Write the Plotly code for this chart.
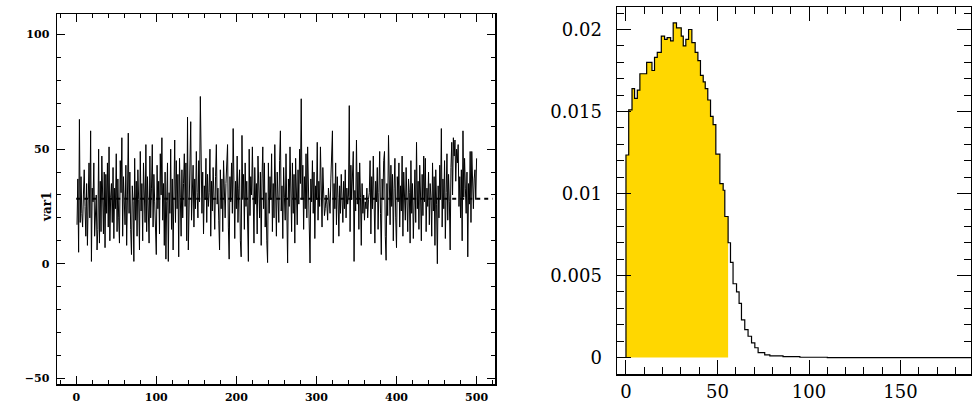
import plotly.graph_objects as go

# ---------------- data ----------------
var1 = [
    17, 37, 5, 63, 18, 38, 22, 16, 30, 41, 25, 12, 35, 8, 28, 44, 20, 58, 1, 33, 27, 44, 12, 19, 30,
    6, 15, 50, 9, 36, 14, 47, 25, 13, 40, 7, 39, 22, 44, 16, 51, 10, 29, 35, 18, 42, 11, 33, 24, 48,
    14, 37, 20, 9, 45, 31, 55, 12, 38, 26, 17, 43, 8, 30, 57, 22, 40, 15, 4, 34, 27, 1, 46, 19, 36,
    12, 41, 28, 6, 49, 23, 35, 10, 44, 30, 18, 52, 14, 38, 25, 9, 47, 20, 33, 52, 16, 39, 27, 11, 4,
    43, 24, 36, 13, 48, 30, 55, 19, 35, 8, 40, 2, 27, 44, 1, 31, 22, 50, 15, 37, 6, 28, 54, 18, 45,
    24, 39, 3, 46, 29, 12, 41, 20, 35, 48, 25, 44, 10, 64, 6, 33, 52, 62, 19, 28, 43, 16, 37, 24, 49,
    31, 20, 45, 27, 73, 36, 22, 40, 13, 34, 28, 46, 18, 39, 25, 31, 50, 12, 36, 23, 42, 29, 15, 38, 52,
    26, 33, 19, 6, 41, 24, 37, 14, 45, 29, 20, 35, 49, 52, 16, 2, 38, 27, 44, 22, 59, 30, 11, 36, 24,
    47, 18, 33, 41, 10, 3, 56, 28, 39, 15, 44, 25, 36, 9, 1, 50, 21, 38, 30, 51, 17, 9, 42, 26, 35,
    13, 47, 29, 20, 40, 8, 37, 51, 24, 44, 16, 31, 10, 0.5, 44, 22, 38, 28, 48, 14, 35, 20, 52, 30, 12,
    40, 26, 18, 45, 58, 23, 34, 11, 42, 29, 19, 48, 6, 0.3, 37, 25, 51, 30, 14, 44, 22, 39, 9, 46, 33,
    17, 41, 26, 50, 35, 72, 28, 43, 15, 38, 24, 48, 20, 51, 31, 13, 0.3, 37, 27, 45, 22, 40, 11, 34, 28,
    53, 19, 36, 25, 51, 30, 16, 42, 28, 21, 24, 30, 26, 19, 33, 27, 22, 37, 46, 58, 9, 35, 24, 44, 17,
    38, 29, 12, 34, 22, 39, 27, 18, 36, 24, 41, 20, 33, 26, 30, 69, 14, 43, 28, 37, 49, 1, 32, 23, 54,
    26, 40, 15, 44, 29, 8, 35, 22, 30, 19, 27, 24, 33, 20, 28, 31, 45, 13, 38, 24, 47, 18, 9, 36, 27,
    42, 15, 31, 49, 22, 4, 37, 28, 45, 49, 12, 1.5, 35, 21, 56, 30, 17, 43, 25, 39, 10, 33, 46, 20, 7,
    38, 27, 44, 16, 34, 23, 47, 12, 40, 29, 19, 42, 25, 14, 37, 31, 9, 45, 22, 35, 11, 28, 41, 18, 53,
    24, 36, 15, 43, 30, 10, 39, 21, 47, 27, 46, 14, 33, 25, 40, 17, 35, 29, 12, 44, 23, 38, 8, 41, 26,
    0, 34, 20, 43, 28, 59, 16, 37, 24, 45, 11, 31, 48, 19, 39, 27, 6, 42, 53, 30, 55, 47, 54, 36, 50,
    44, 52, 25, 38, 20, 41, 10, 58, 29, 46, 33, 22, 40, 3, 35, 26, 49, 18, 49, 31, 24, 37, 41, 28, 46,
]
iterations = list(range(1, len(var1) + 1))
mean_value = 28.4
mean_line_x = [0, 520]

dens_x = [0, 0, 1.5, 3.3, 4.7, 6.2, 7.6, 11.3, 14.2, 15.6, 17.1, 19.3, 21.1, 22.5, 24.4, 25.8,
          27.6, 30.2, 31.3, 32.7, 34.2, 36.0, 37.8, 39.3, 40.7, 42.2, 43.3, 44.7, 46.2, 47.6,
          49.1, 51.3, 53.1, 54.0, 55.8, 57.1, 58.5, 60.4, 61.8, 63.1, 64.9, 66.7, 68.6, 70.4,
          72.2, 75.8, 78.6, 85.8, 95.0, 110.0, 188.5]
dens_y = [0, 0.01235, 0.0151, 0.0164, 0.0158, 0.0163, 0.0173, 0.0180, 0.0175, 0.0183, 0.0186,
          0.0196, 0.0194, 0.0195, 0.0193, 0.0204, 0.0201, 0.0196, 0.0190, 0.0194, 0.0200, 0.0192,
          0.0186, 0.0181, 0.0172, 0.0168, 0.0164, 0.0157, 0.0147, 0.0142, 0.0124, 0.0106, 0.0102,
          0.0086, 0.0070, 0.0058, 0.0045, 0.0040, 0.0033, 0.0023, 0.0017, 0.0013, 0.0009, 0.0006,
          0.0003, 0.00016, 0.0001, 0.00006, 0.00002, 0.0, 0.0]
fill_end = 55.8

# ---------------- figure ----------------
W, H = 972, 404
fig = go.Figure()

fig.add_trace(go.Scatter(x=iterations, y=var1, mode="lines",
                         line=dict(color="black", width=1), xaxis="x", yaxis="y",
                         showlegend=False, hoverinfo="skip"))
fig.add_trace(go.Scatter(x=mean_line_x, y=[mean_value, mean_value], mode="lines",
                         line=dict(color="black", width=2, dash="4px,4px"),
                         xaxis="x", yaxis="y", showlegend=False, hoverinfo="skip"))

fx = [x for x in dens_x if x < fill_end] + [fill_end]
fy = [y for x, y in zip(dens_x, dens_y) if x < fill_end] + [0]
fig.add_trace(go.Scatter(x=fx, y=fy, mode="lines", line=dict(width=0, shape="hv"),
                         fill="tozeroy", fillcolor="#FFD700", xaxis="x2", yaxis="y2",
                         showlegend=False, hoverinfo="skip"))
fig.add_trace(go.Scatter(x=dens_x, y=dens_y, mode="lines",
                         line=dict(color="black", width=1.2, shape="hv"),
                         xaxis="x2", yaxis="y2", showlegend=False, hoverinfo="skip"))

def px(v):
    return v / W

def py(v):
    return 1 - v / H

small = dict(family="DejaVu Serif", size=11, color="black", weight="bold")
big = dict(family="DejaVu Serif", size=18, color="black")

common = dict(showline=True, linecolor="black", linewidth=1.5, mirror="ticks",
              ticks="inside", tickcolor="black", showgrid=False, zeroline=False,
              automargin=False)

fig.update_layout(
    width=W, height=H, margin=dict(l=0, r=0, t=0, b=0, autoexpand=False),
    paper_bgcolor="white", plot_bgcolor="white",
    xaxis=dict(domain=[px(57), px(495)], range=[-24, 523], dtick=100, tick0=0,
               ticklen=8, tickwidth=1, tickfont=small, ticklabelstandoff=2,
               minor=dict(dtick=20, ticklen=4, ticks="inside", tickcolor="black"),
               anchor="y", **common),
    yaxis=dict(domain=[py(384), py(14)], range=[-52.5, 109], dtick=50, tick0=0,
               ticklen=8, tickwidth=1, tickfont=small, ticklabelstandoff=4,
               minor=dict(dtick=10, ticklen=4, ticks="inside", tickcolor="black"),
               anchor="x", **common),
    xaxis2=dict(domain=[px(617), px(971)], range=[-4.9, 188.5], dtick=50, tick0=0,
                ticklen=14, tickwidth=1, tickfont=big, ticklabelstandoff=1,
                minor=dict(dtick=10, ticklen=7, ticks="inside", tickcolor="black"),
                anchor="y2", **common),
    yaxis2=dict(domain=[py(374), py(7)], range=[-0.001, 0.02137], dtick=0.005, tick0=0,
                ticklen=14, tickwidth=1, tickfont=big, ticklabelstandoff=10,
                tickformat="~g",
                minor=dict(dtick=0.001, ticklen=7, ticks="inside", tickcolor="black"),
                anchor="x2", **common),
    annotations=[dict(text="var1", x=px(38), y=py(207), xref="paper", yref="paper",
                      textangle=-90, showarrow=False,
                      font=dict(family="DejaVu Serif", size=12, color="black", weight="bold"))],
)

fig.write_html("out.html", config={"displayModeBar": False, "staticPlot": True},
               post_script="document.body.style.margin='0px';document.body.style.overflow='hidden';")
